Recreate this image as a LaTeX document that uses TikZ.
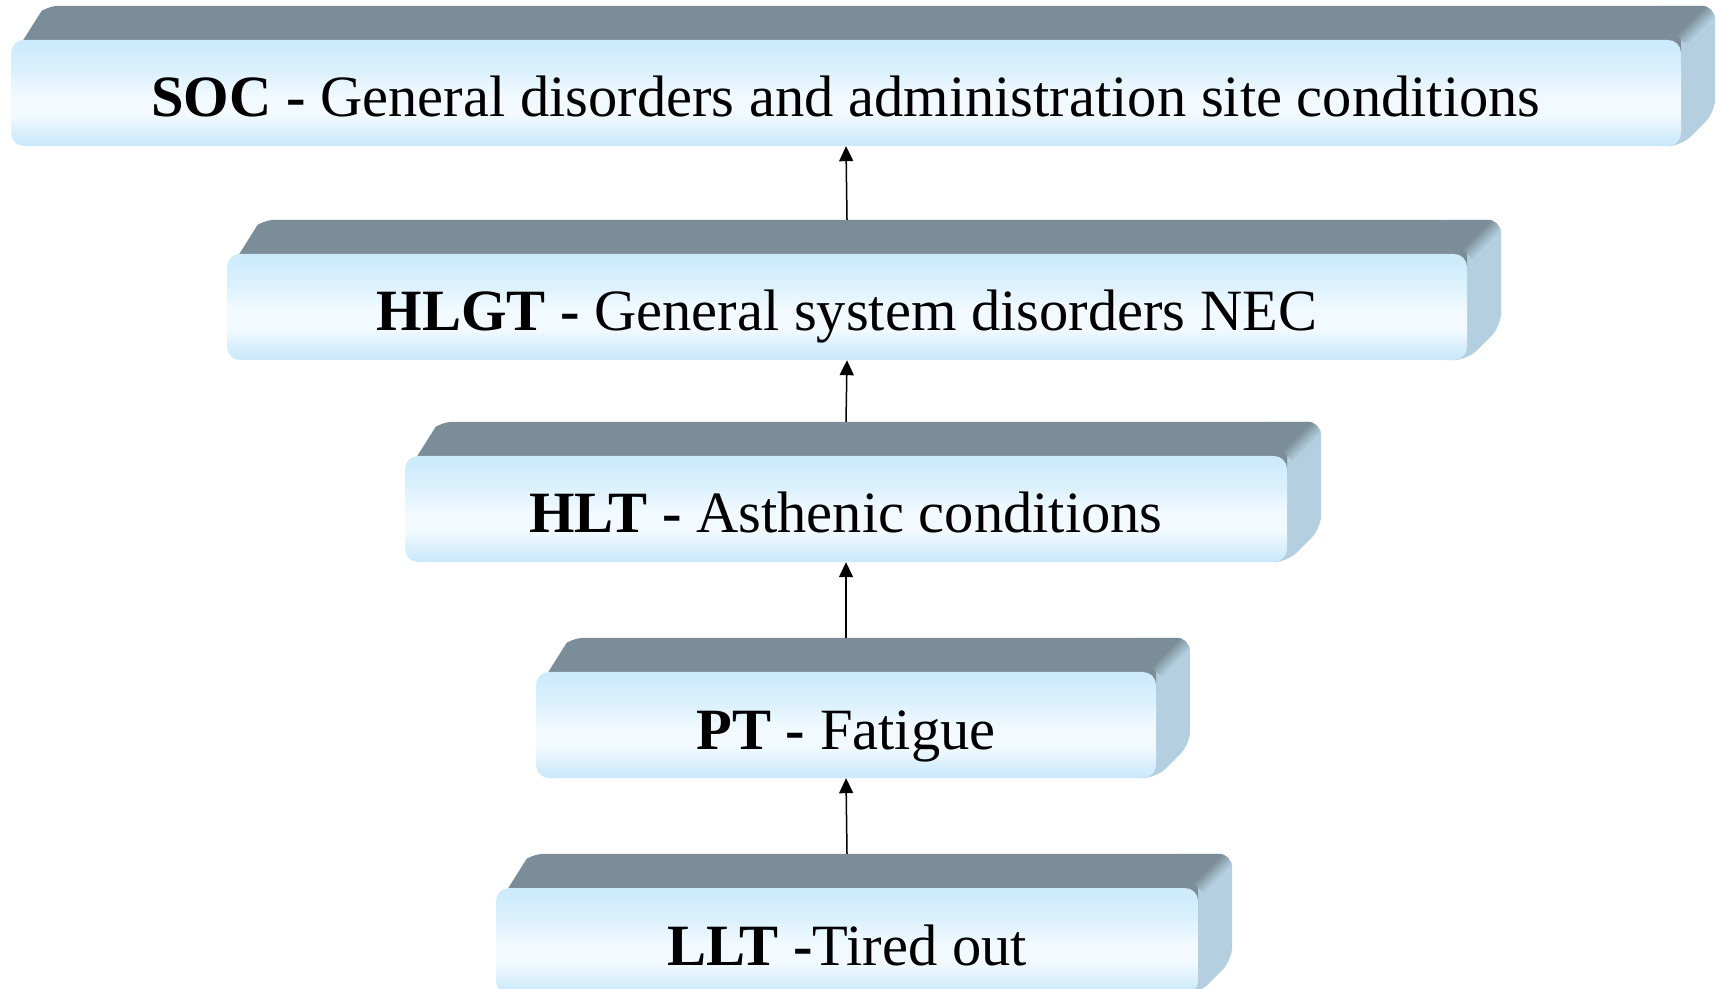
\documentclass[tikz,border=0pt]{standalone}
\usepackage{fontspec}
\setmainfont{Liberation Serif}
\usetikzlibrary{arrows.meta}
\pgfdeclarelayer{back}
\pgfsetlayers{back,main}

\definecolor{topgray}{HTML}{7B8D98}
\definecolor{sideblue}{HTML}{B3CFE0}
\definecolor{faceA}{HTML}{C9E8FC}
\definecolor{faceB}{HTML}{D8EFFD}
\definecolor{faceC}{HTML}{F3FAFF}
\definecolor{faceD}{HTML}{DCF1FD}
\definecolor{faceE}{HTML}{CBEAFC}

% light blue front face, whitest a little below the middle
\pgfdeclareverticalshading{slabface}{100bp}{%
  color(0bp)=(faceA); color(25bp)=(faceA); color(31bp)=(faceB);
  color(40bp)=(faceC); color(48bp)=(faceC); color(60bp)=(faceD);
  color(75bp)=(faceE); color(100bp)=(faceE)}
% soft crease between the top and the right side
\pgfdeclareverticalshading{crease}{100bp}{%
  color(0bp)=(sideblue); color(42bp)=(sideblue);
  color(58bp)=(topgray); color(100bp)=(topgray)}

\tikzset{
  face/.style={rectangle, rounded corners=13pt, minimum height=106pt,
    inner sep=0pt, shade, shading=slabface, text height=48pt, text depth=0pt,
    font=\fontsize{58.5}{70}\selectfont},
  link/.style={line width=1.5pt, -{Triangle[width=14pt,length=15pt]}}
}

% #1 name, #2 centre, #3 width, #4 label: a slab with its top and right side
\newcommand\slab[4]{%
  \node[face, minimum width=#3pt] (#1) at (#2) {#4};
  \begin{pgfonlayer}{back}
    \begin{scope}
      \clip[rounded corners=14pt] (#1.south west) -- (#1.north west)
        -- ([shift={(34pt,34pt)}]#1.north west)
        -- ([shift={(34pt,34pt)}]#1.north east)
        -- ([shift={(34pt,34pt)}]#1.south east)
        -- (#1.south east) -- cycle;
      \fill[sideblue] ([shift={(-20pt,-5pt)}]#1.south east)
        rectangle ([shift={(40pt,40pt)}]#1.north east);
      \fill[topgray] ([yshift=-20pt]#1.north west)
        -- ([shift={(34pt,34pt)}]#1.north west)
        -- ([shift={(34pt,34pt)}]#1.north east)
        -- (#1.north east) -- ([yshift=-20pt]#1.north east) -- cycle;
      \shade[shading=crease, shading angle=45]
        ([shift={(-6pt,6pt)}]#1.north east)
        -- ([shift={(28pt,40pt)}]#1.north east)
        -- ([shift={(40pt,28pt)}]#1.north east)
        -- ([shift={(6pt,-6pt)}]#1.north east) -- cycle;
    \end{scope}
  \end{pgfonlayer}%
}

\begin{document}
\begin{tikzpicture}[x=1pt, y=1pt]
  \useasboundingbox (0,0) rectangle (1720,988);

  \slab{soc}{846,895}{1670}{\textbf{SOC -} General disorders and administration site conditions}
  \slab{hlgt}{847,681}{1240}{\textbf{HLGT -} General system disorders NEC}
  \slab{hlt}{846,479}{882}{\textbf{HLT -} Asthenic conditions}
  \slab{pt}{846,263}{620}{\textbf{PT -} Fatigue}
  \slab{llt}{847,47}{702}{\textbf{LLT -}Tired out}

  \draw[link] ([yshift=34pt]hlgt.north) -- (soc.south);
  \draw[link] ([yshift=34pt]hlt.north) -- (hlgt.south);
  \draw[link] ([yshift=34pt]pt.north) -- (hlt.south);
  \draw[link] ([yshift=34pt]llt.north) -- (pt.south);
\end{tikzpicture}
\end{document}
